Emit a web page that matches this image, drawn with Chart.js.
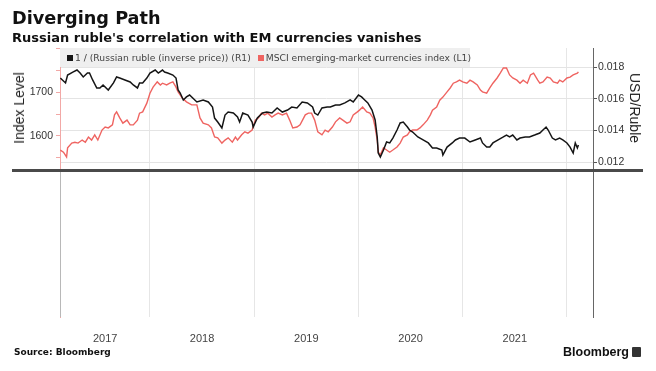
<!DOCTYPE html>
<html>
<head>
<meta charset="utf-8">
<script src="https://cdn.jsdelivr.net/npm/chart.js@4.4.1/dist/chart.umd.min.js"></script>
<style>
  html, body { margin: 0; padding: 0; background: #fff; }
  #wrap { position: relative; width: 656px; height: 371px; overflow: hidden; }
  .txt { position: absolute; white-space: nowrap; line-height: 1; color: #111; }
  #title { left: 12px; top: 8px; font: bold 17.7px "DejaVu Sans", sans-serif; }
  #subtitle { left: 12px; top: 29.5px; font: bold 13px "DejaVu Sans", sans-serif; }
  #legend { position: absolute; left: 60px; top: 48px; width: 410px; height: 19px; background: #efefef;
            font: 9.2px "DejaVu Sans", sans-serif; color: #444; line-height: 19px; white-space: nowrap; }
  #legend span.sw { display: inline-block; width: 6px; height: 6px; margin: 0 2px 0 7px; vertical-align: 0; }
  .axisTitle { position: absolute; font-family: "Liberation Sans", Arial, sans-serif; font-size: 14px;
               font-weight: normal; color: #222; white-space: nowrap; line-height: 1; }
  #leftTitle { left: 19px; top: 108px; transform: translate(-50%, -50%) rotate(-90deg); }
  #rightTitle { left: 635px; top: 108px; transform: translate(-50%, -50%) rotate(90deg); }
  #source { left: 14px; top: 347.4px; font: bold 9px "DejaVu Sans", sans-serif; }
  #brand { left: 563px; top: 345.4px; font: bold 12.5px "Liberation Sans", Arial, sans-serif; }
  #brandIcon { position: absolute; left: 632px; top: 347px; width: 9px; height: 10px; background: #333; border-radius: 1px; }
</style>
</head>
<body>
<div id="wrap">
  <canvas id="chart"></canvas>
  <div id="title" class="txt">Diverging Path</div>
  <div id="subtitle" class="txt">Russian ruble's correlation with EM currencies vanishes</div>
  <div id="legend"></div>
  <div id="leftTitle" class="axisTitle">Index Level</div>
  <div id="rightTitle" class="axisTitle">USD/Ruble</div>
  <div id="source" class="txt">Source: Bloomberg</div>
  <div id="brand" class="txt">Bloomberg</div>
  <div id="brandIcon"></div>
</div>
<script>
// dates as decimal years
const rubleDates = [
  2017.14, 2017.19, 2017.21, 2017.26, 2017.30, 2017.33, 2017.36, 2017.40, 2017.42, 2017.45,
  2017.49, 2017.52, 2017.55, 2017.60, 2017.65, 2017.68, 2017.71, 2017.76, 2017.81, 2017.84,
  2017.88, 2017.90, 2017.93, 2017.97, 2018.00, 2018.05, 2018.08, 2018.12, 2018.14, 2018.17,
  2018.22, 2018.25, 2018.27, 2018.29, 2018.32, 2018.35, 2018.38, 2018.45, 2018.51, 2018.56,
  2018.60, 2018.62, 2018.65, 2018.69, 2018.72, 2018.75, 2018.80, 2018.84, 2018.86, 2018.89,
  2018.94, 2018.98, 2018.99, 2019.03, 2019.08, 2019.12, 2019.17, 2019.22, 2019.27, 2019.32,
  2019.36, 2019.41, 2019.46, 2019.51, 2019.56, 2019.58, 2019.61, 2019.65, 2019.70, 2019.73,
  2019.78, 2019.82, 2019.87, 2019.92, 2019.95, 2020.00, 2020.03, 2020.06, 2020.09, 2020.13,
  2020.16, 2020.18, 2020.19, 2020.21, 2020.24, 2020.27, 2020.30, 2020.33, 2020.37, 2020.40,
  2020.43, 2020.47, 2020.49, 2020.52, 2020.57, 2020.62, 2020.67, 2020.71, 2020.75, 2020.80,
  2020.81, 2020.85, 2020.90, 2020.93, 2020.97, 2021.02, 2021.07, 2021.12, 2021.17, 2021.19,
  2021.23, 2021.26, 2021.29, 2021.34, 2021.39, 2021.42, 2021.45, 2021.48, 2021.52, 2021.55,
  2021.60, 2021.64, 2021.69, 2021.74, 2021.77, 2021.80, 2021.82, 2021.86, 2021.89, 2021.93,
  2021.96, 2022.00, 2022.03, 2022.06, 2022.08, 2022.10, 2022.11
];
const rubleValues = [
  0.01733, 0.01702, 0.01752, 0.01771, 0.01784, 0.01765, 0.01740, 0.01765, 0.01765, 0.01721,
  0.01670, 0.01670, 0.01689, 0.01657, 0.01702, 0.01740, 0.01733, 0.01721, 0.01708, 0.01689,
  0.01670, 0.01702, 0.01702, 0.01733, 0.01765, 0.01784, 0.01765, 0.01784, 0.01771, 0.01765,
  0.01752, 0.01733, 0.01657, 0.01638, 0.01594, 0.01613, 0.01625, 0.01581, 0.01594, 0.01581,
  0.01549, 0.01479, 0.01454, 0.01416, 0.01498, 0.01517, 0.01511, 0.01486, 0.01454, 0.01511,
  0.01498, 0.01454, 0.01422, 0.01479, 0.01511, 0.01517, 0.01511, 0.01543, 0.01517, 0.01530,
  0.01549, 0.01543, 0.01581, 0.01575, 0.01549, 0.01511, 0.01498, 0.01543, 0.01549, 0.01549,
  0.01562, 0.01562, 0.01575, 0.01594, 0.01581, 0.01625, 0.01613, 0.01594, 0.01575, 0.01530,
  0.01467, 0.01359, 0.01257, 0.01232, 0.01276, 0.01327, 0.01321, 0.01352, 0.01403, 0.01448,
  0.01454, 0.01422, 0.01403, 0.01390, 0.01359, 0.01340, 0.01321, 0.01289, 0.01289, 0.01276,
  0.01244, 0.01295, 0.01321, 0.01340, 0.01352, 0.01352, 0.01327, 0.01340, 0.01352, 0.01321,
  0.01295, 0.01295, 0.01321, 0.01340, 0.01359, 0.01371, 0.01359, 0.01371, 0.01340, 0.01352,
  0.01359, 0.01359, 0.01371, 0.01384, 0.01403, 0.01422, 0.01403, 0.01352, 0.01340, 0.01352,
  0.01340, 0.01321, 0.01295, 0.01257, 0.01321, 0.01289, 0.01308
];

const msciDates = [
  2017.14, 2017.17, 2017.20, 2017.21, 2017.25, 2017.28, 2017.31, 2017.35, 2017.38, 2017.41,
  2017.44, 2017.47, 2017.50, 2017.54, 2017.57, 2017.60, 2017.64, 2017.66, 2017.68, 2017.71,
  2017.74, 2017.78, 2017.81, 2017.84, 2017.88, 2017.90, 2017.93, 2017.97, 2018.00, 2018.03,
  2018.07, 2018.10, 2018.12, 2018.16, 2018.19, 2018.22, 2018.25, 2018.27, 2018.31, 2018.35,
  2018.40, 2018.45, 2018.48, 2018.51, 2018.56, 2018.59, 2018.62, 2018.65, 2018.69, 2018.72,
  2018.75, 2018.79, 2018.82, 2018.84, 2018.88, 2018.91, 2018.94, 2018.98, 2019.01, 2019.04,
  2019.07, 2019.10, 2019.13, 2019.17, 2019.20, 2019.23, 2019.27, 2019.31, 2019.34, 2019.37,
  2019.41, 2019.44, 2019.49, 2019.52, 2019.55, 2019.58, 2019.61, 2019.65, 2019.68, 2019.71,
  2019.75, 2019.78, 2019.82, 2019.85, 2019.89, 2019.92, 2019.95, 2019.99, 2020.01, 2020.04,
  2020.08, 2020.11, 2020.14, 2020.16, 2020.18, 2020.19, 2020.21, 2020.24, 2020.27, 2020.30,
  2020.33, 2020.37, 2020.40, 2020.43, 2020.47, 2020.49, 2020.52, 2020.56, 2020.59, 2020.62,
  2020.66, 2020.69, 2020.71, 2020.75, 2020.78, 2020.81, 2020.85, 2020.88, 2020.91, 2020.94,
  2020.97, 2021.00, 2021.04, 2021.07, 2021.10, 2021.14, 2021.17, 2021.19, 2021.23, 2021.26,
  2021.29, 2021.33, 2021.36, 2021.39, 2021.42, 2021.45, 2021.48, 2021.52, 2021.55, 2021.58,
  2021.62, 2021.65, 2021.68, 2021.72, 2021.74, 2021.77, 2021.81, 2021.84, 2021.87, 2021.91,
  2021.93, 2021.96, 2022.00, 2022.03, 2022.06, 2022.10, 2022.11
];
const msciValues = [
  1567, 1562, 1551, 1572, 1583, 1585, 1583, 1590, 1585, 1597,
  1590, 1602, 1590, 1613, 1620, 1618, 1625, 1648, 1655, 1641,
  1629, 1636, 1625, 1625, 1636, 1652, 1655, 1675, 1698, 1712,
  1724, 1717, 1721, 1717, 1721, 1724, 1712, 1701, 1687, 1678,
  1671, 1671, 1641, 1629, 1625, 1618, 1597, 1595, 1583, 1590,
  1595, 1585, 1597, 1590, 1602, 1609, 1606, 1613, 1636, 1641,
  1652, 1648, 1652, 1643, 1648, 1652, 1648, 1652, 1636, 1618,
  1620, 1625, 1648, 1652, 1652, 1636, 1609, 1602, 1613, 1609,
  1620, 1632, 1641, 1636, 1629, 1632, 1648, 1655, 1659, 1666,
  1655, 1652, 1641, 1620, 1590, 1562, 1556, 1572, 1567, 1562,
  1567, 1574, 1583, 1597, 1602, 1609, 1613, 1613, 1618, 1625,
  1636, 1648, 1659, 1666, 1682, 1689, 1701, 1710, 1721, 1724,
  1728, 1724, 1721, 1728, 1724, 1717, 1705, 1701, 1698, 1710,
  1721, 1733, 1744, 1756, 1756, 1740, 1733, 1728, 1721, 1728,
  1721, 1740, 1744, 1728, 1721, 1724, 1735, 1733, 1724, 1721,
  1728, 1724, 1733, 1735, 1740, 1744, 1747
];

const rubleLabel = "1 / (Russian ruble (inverse price)) (R1)";
const msciLabel = "MSCI emerging-market currencies index (L1)";

const yearGridlines = [2018, 2019, 2020, 2021, 2022];
const yearLabels = ["2017", "2018", "2019", "2020", "2021"];
const yearLabelPositions = [2017.57, 2018.5, 2019.5, 2020.5, 2021.5];
const leftTicks = [1550, 1600, 1650, 1700, 1750, 1800];
const leftTickLabels = [1600, 1700];
const rightTicks = [0.012, 0.014, 0.016, 0.018];

const rubleColor = "#151515";
const msciColor = "#ef6461";

function toPoints(dates, values) {
    return dates.map((d, i) => ({ x: d, y: values[i] }));
}

const legendEl = document.getElementById("legend");
[[rubleColor, rubleLabel], [msciColor, msciLabel]].forEach(([color, label]) => {
    const sw = document.createElement("span");
    sw.className = "sw";
    sw.style.background = color;
    legendEl.appendChild(sw);
    legendEl.appendChild(document.createTextNode(label));
});

const frame = {
    id: "frame",
    afterDraw(chart) {
        const { ctx, chartArea } = chart;
        const sep = chartArea.top + 122.5;
        ctx.save();
        ctx.strokeStyle = "#b8b8b8";
        ctx.lineWidth = 1;
        ctx.beginPath();
        ctx.moveTo(Math.round(chartArea.left) + 0.5, sep);
        ctx.lineTo(Math.round(chartArea.left) + 0.5, chartArea.bottom);
        ctx.stroke();
        ctx.fillStyle = "#4a4a4a";
        ctx.fillRect(12, sep - 1.5, 631, 3);
        ctx.restore();
    }
};

const tickFont = { family: "'Liberation Sans', Arial, sans-serif", size: 10.5 };

new Chart(document.getElementById("chart"), {
    type: "line",
    data: {
        datasets: [
            {
                label: rubleLabel,
                data: toPoints(rubleDates, rubleValues),
                yAxisID: "yRight",
                borderColor: rubleColor,
                borderWidth: 1.5
            },
            {
                label: msciLabel,
                data: toPoints(msciDates, msciValues),
                yAxisID: "yLeft",
                borderColor: msciColor,
                borderWidth: 1.4
            }
        ]
    },
    options: {
        responsive: true,
        maintainAspectRatio: false,
        animation: false,
        layout: { padding: { top: 48, left: 0, right: 0, bottom: 0 } },
        elements: { point: { radius: 0 }, line: { tension: 0 } },
        plugins: { legend: { display: false }, tooltip: { enabled: false } },
        scales: {
            x: {
                type: "linear",
                min: 2017.137,
                max: 2022.25,
                afterBuildTicks: scale => {
                    scale.ticks = yearGridlines.map(v => ({ value: v }))
                        .concat(yearLabelPositions.map(v => ({ value: v })))
                        .sort((a, b) => a.value - b.value);
                },
                afterFit: scale => { scale.height = 54; },
                grid: {
                    drawTicks: false,
                    color: ctx => (ctx.tick && yearGridlines.includes(ctx.tick.value)) ? "#e6e6e6" : "rgba(0,0,0,0)"
                },
                border: { display: false },
                ticks: {
                    autoSkip: false,
                    maxRotation: 0,
                    padding: 15,
                    color: "#444",
                    font: { ...tickFont, size: 11 },
                    callback: value => {
                        const i = yearLabelPositions.indexOf(value);
                        return i >= 0 ? yearLabels[i] : "";
                    }
                }
            },
            yLeft: {
                position: "left",
                min: 1182.3,
                max: 1802.1,
                afterBuildTicks: scale => { scale.ticks = leftTicks.map(v => ({ value: v })); },
                afterFit: scale => { scale.width = 60; },
                grid: { drawOnChartArea: false, tickLength: 4, tickColor: "#f2a8a6" },
                border: { color: "#f2a8a6" },
                ticks: {
                    autoSkip: false,
                    padding: 3,
                    color: "#333",
                    font: tickFont,
                    callback: value => leftTickLabels.includes(value) ? String(value) : ""
                }
            },
            yRight: {
                position: "right",
                min: 0.002159,
                max: 0.019238,
                afterBuildTicks: scale => { scale.ticks = rightTicks.map(v => ({ value: v })); },
                afterFit: scale => { scale.width = 63; },
                grid: { color: "#e4e4e4", tickLength: 4, tickColor: "#555" },
                border: { color: "#666" },
                ticks: {
                    autoSkip: false,
                    padding: 1,
                    color: "#333",
                    font: tickFont,
                    callback: value => value.toFixed(3)
                }
            }
        }
    },
    plugins: [frame]
});
</script>
</body>
</html>
